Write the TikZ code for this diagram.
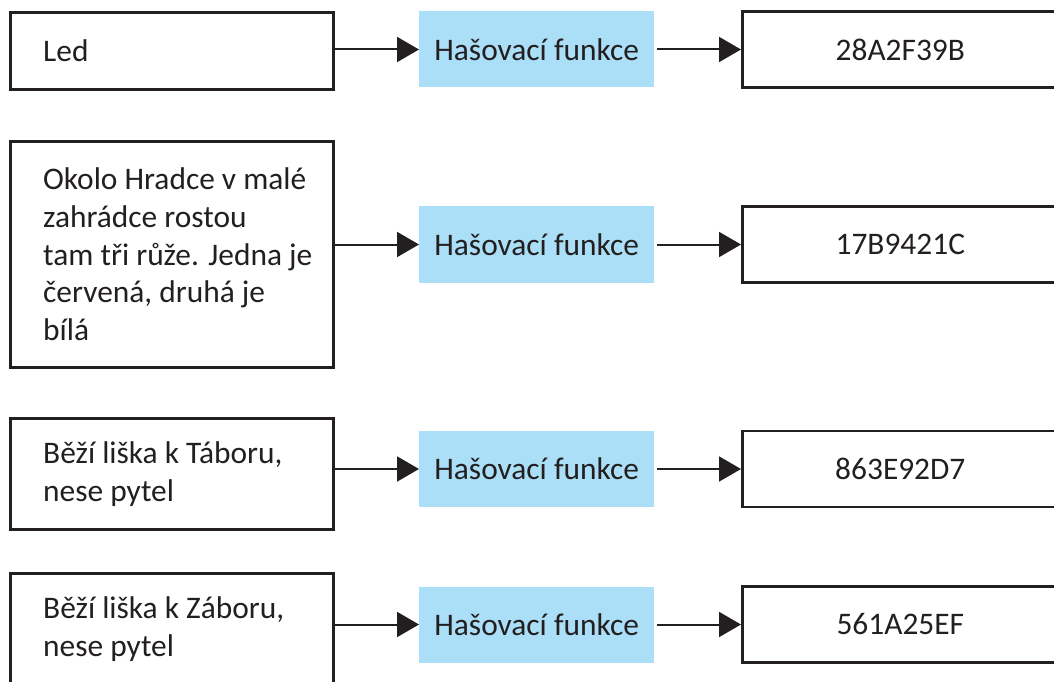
\documentclass[tikz,border=0pt]{standalone}
\usepackage{fontspec}
\setmainfont{Carlito}
\usetikzlibrary{arrows.meta}
\definecolor{hashblue}{HTML}{AADFF7}
\definecolor{ink}{HTML}{231F20}
\tikzset{
  txt/.style={text=ink, font=\fontsize{31.4bp}{37.7bp}\selectfont},
  inbox/.style={draw=ink, line width=2.6bp, rectangle, anchor=north west, minimum width=323bp, inner sep=0pt},
  intext/.style={txt, anchor=west, align=left, inner sep=0pt},
  hashbox/.style={txt, fill=hashblue, rectangle, anchor=west, minimum width=235bp, minimum height=76bp, inner sep=0pt},
  outbox/.style={txt, draw=ink, line width=2.6bp, rectangle, anchor=west, minimum width=316bp, minimum height=76bp, inner sep=0pt},
  flow/.style={draw=ink, line width=2bp, -{Triangle[length=22bp,width=25bp]}},
}
\begin{document}
\begin{tikzpicture}[x=1bp, y=-1bp]
\clip (0,0) rectangle (1054,682);
% input messages
\node[inbox, minimum height=77bp] (in1) at (9,11) {};
\node[inbox, minimum height=226bp] (in2) at (9,140) {};
\node[inbox, minimum height=111bp] (in3) at (9,417) {};
\node[inbox, minimum height=111bp] (in4) at (9,572) {};
\node[intext] (t1) at ([xshift=34bp]in1.west) {Led};
\node[intext] (t2) at ([xshift=34bp]in2.west) {Okolo Hradce v malé\\zahrádce rostou\\tam tři růže. Jedna je\\červená, druhá je\\bílá};
\node[intext] (t3) at ([xshift=34bp]in3.west) {Běží liška k Táboru,\\nese pytel};
\node[intext] (t4) at ([xshift=34bp]in4.west) {Běží liška k Záboru,\\nese pytel};
% hash function
\node[hashbox] (h1) at (419,49.5) {Hašovací funkce};
\node[hashbox] (h2) at (419,244.5) {Hašovací funkce};
\node[hashbox] (h3) at (419,469) {Hašovací funkce};
\node[hashbox] (h4) at (419,624.5) {Hašovací funkce};
% digests
\node[outbox] (o1) at (741,49.5) {28A2F39B};
\node[outbox] (o2) at (741,244.5) {17B9421C};
\node[outbox] (o3) at (741,469) {863E92D7};
\node[outbox] (o4) at (741,624.5) {561A25EF};
% connectors
\foreach \i in {1,...,4}{
  \draw[flow] (h\i.west -| in\i.east) -- (h\i.west);
  \draw[flow, shorten <=3bp] (h\i.east) -- (o\i.west);
}
\end{tikzpicture}
\end{document}
